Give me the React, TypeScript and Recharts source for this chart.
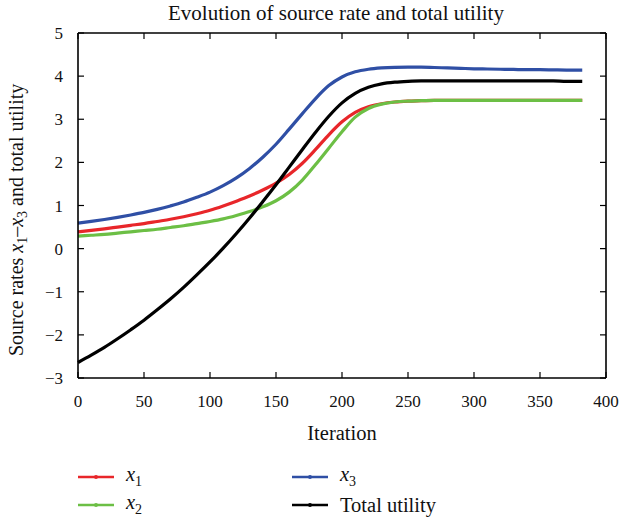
import React from 'react';
import { LineChart, Line, XAxis, YAxis, Legend } from 'recharts';

const iterations = [0, 10, 20, 30, 40, 50, 60, 70, 80, 90, 100, 110, 120, 130, 140, 150, 160, 170, 180, 190, 200, 210, 220, 230, 240, 250, 260, 270, 280, 290, 300, 310, 320, 330, 340, 350, 360, 370, 382];
const x1Values = [0.39, 0.425, 0.46, 0.5, 0.54, 0.58, 0.63, 0.68, 0.74, 0.81, 0.89, 0.99, 1.1, 1.22, 1.36, 1.52, 1.72, 1.98, 2.3, 2.64, 2.94, 3.16, 3.29, 3.36, 3.4, 3.42, 3.43, 3.44, 3.44, 3.44, 3.44, 3.44, 3.44, 3.44, 3.44, 3.44, 3.44, 3.44, 3.44];
const x2Values = [0.29, 0.31, 0.33, 0.36, 0.39, 0.42, 0.45, 0.49, 0.53, 0.58, 0.63, 0.69, 0.77, 0.86, 0.97, 1.11, 1.31, 1.59, 1.95, 2.33, 2.71, 3.05, 3.25, 3.35, 3.4, 3.42, 3.43, 3.44, 3.44, 3.44, 3.44, 3.44, 3.44, 3.44, 3.44, 3.44, 3.44, 3.44, 3.44];
const x3Values = [0.59, 0.63, 0.675, 0.725, 0.78, 0.84, 0.91, 0.99, 1.08, 1.19, 1.31, 1.46, 1.64, 1.86, 2.12, 2.42, 2.77, 3.13, 3.48, 3.78, 3.98, 4.1, 4.16, 4.19, 4.205, 4.21, 4.21, 4.2, 4.19, 4.18, 4.17, 4.165, 4.16, 4.155, 4.15, 4.15, 4.145, 4.14, 4.14];
const utilityValues = [-2.64, -2.47, -2.29, -2.09, -1.88, -1.66, -1.42, -1.17, -0.9, -0.61, -0.31, 0.01, 0.35, 0.71, 1.09, 1.48, 1.89, 2.3, 2.7, 3.07, 3.38, 3.6, 3.74, 3.82, 3.86, 3.88, 3.89, 3.89, 3.89, 3.89, 3.89, 3.89, 3.89, 3.89, 3.89, 3.89, 3.89, 3.88, 3.88];

const xTicks = [0, 50, 100, 150, 200, 250, 300, 350, 400];
const yTicks = [-3, -2, -1, 0, 1, 2, 3, 4, 5];

const data = iterations.map((it, i) => ({
  it,
  x1: x1Values[i],
  x2: x2Values[i],
  x3: x3Values[i],
  total: utilityValues[i],
}));

const FONT = '"Liberation Serif", "DejaVu Serif", serif';

const fmt = (v: number) => String(v).replace('-', '\u2212');

const BottomLabel = (props: any) => {
  const { x, y, payload } = props;
  return (
    <text x={x} y={y + 29} textAnchor="middle" fontFamily={FONT} fontSize={17} fill="#111">
      {fmt(payload.value)}
    </text>
  );
};

const LeftLabel = (props: any) => {
  const { x, y, payload } = props;
  return (
    <text x={x - 15} y={y + 6} textAnchor="end" fontFamily={FONT} fontSize={17} fill="#111">
      {fmt(payload.value)}
    </text>
  );
};

const EmptyTick = () => <g />;

const YLabel = () => (
  <text
    transform="translate(23, 356) rotate(-90)"
    textAnchor="start"
    fontFamily={FONT}
    fontSize={20}
    fill="#111"
  >
    <tspan>Source rates </tspan>
    <tspan fontStyle="italic">x</tspan>
    <tspan fontSize={14} dy={4}>1</tspan>
    <tspan dy={-4}>{'\u2013'}</tspan>
    <tspan fontStyle="italic">x</tspan>
    <tspan fontSize={14} dy={4}>3</tspan>
    <tspan dy={-4}> and total utility</tspan>
  </text>
);

const XLabel = () => (
  <text x={342} y={440} textAnchor="middle" fontFamily={FONT} fontSize={20.5} fill="#111">
    Iteration
  </text>
);

const legendItems = [
  { key: 'x1', color: '#e8262a', name: 'x', sub: '1', left: 78, top: 465 },
  { key: 'x2', color: '#6cbf45', name: 'x', sub: '2', left: 78, top: 493 },
  { key: 'x3', color: '#2f4fa5', name: 'x', sub: '3', left: 292, top: 465 },
  { key: 'total', color: '#000000', name: 'Total utility', sub: '', left: 292, top: 493 },
];

const LegendContent = () => (
  <div style={{ position: 'relative', width: 620, height: 518 }}>
    {legendItems.map((it) => (
      <div
        key={it.key}
        style={{
          position: 'absolute',
          left: it.left,
          top: it.top,
          height: 24,
          display: 'flex',
          alignItems: 'center',
          fontFamily: FONT,
          fontSize: 20.5,
          color: '#111',
          whiteSpace: 'nowrap',
        }}
      >
        <svg width={36} height={8} style={{ marginRight: 12 }}>
          <line x1={0} x2={36} y1={4} y2={4} stroke={it.color} strokeWidth={2.5} />
          <circle cx={18} cy={4} r={2} fill={it.color} />
        </svg>
        {it.sub ? (
          <span>
            <i>{it.name}</i>
            <sub style={{ fontSize: 14 }}>{it.sub}</sub>
          </span>
        ) : (
          <span>{it.name}</span>
        )}
      </div>
    ))}
  </div>
);

const frameLine = { stroke: '#000', strokeWidth: 1.6 };
const tickLineStyle = { stroke: '#000', strokeWidth: 1.2 };

export default function App() {
  return (
    <div style={{ position: 'absolute', left: 0, top: 0, width: 620, height: 518, background: '#fff' }}>
      <LineChart
        width={620}
        height={518}
        data={data}
        margin={{ top: 33, right: 14, bottom: 110, left: 0 }}
      >
        <XAxis
          dataKey="it"
          type="number"
          domain={[0, 400]}
          ticks={xTicks}
          tickSize={0}
          tickMargin={0}
          tickLine={false}
          tick={<BottomLabel />}
          axisLine={frameLine}
          height={30}
          interval={0}
        />
        <YAxis
          type="number"
          domain={[-3, 5]}
          ticks={yTicks}
          tickSize={0}
          tickMargin={0}
          tickLine={false}
          tick={<LeftLabel />}
          axisLine={frameLine}
          width={78}
          interval={0}
          allowDataOverflow
        />
        <XAxis
          xAxisId="bm"
          orientation="bottom"
          mirror
          dataKey="it"
          type="number"
          domain={[0, 400]}
          ticks={xTicks}
          tickSize={6}
          tickLine={tickLineStyle}
          tick={<EmptyTick />}
          axisLine={false}
          interval={0}
          allowDataOverflow
        />
        <XAxis
          xAxisId="tm"
          orientation="top"
          mirror
          dataKey="it"
          type="number"
          domain={[0, 400]}
          ticks={xTicks}
          tickSize={6}
          tickLine={tickLineStyle}
          tick={<EmptyTick />}
          axisLine={frameLine}
          interval={0}
          allowDataOverflow
        />
        <YAxis
          yAxisId="lm"
          orientation="left"
          mirror
          type="number"
          domain={[-3, 5]}
          ticks={yTicks}
          tickSize={6}
          tickLine={tickLineStyle}
          tick={<EmptyTick />}
          axisLine={false}
          interval={0}
          allowDataOverflow
        />
        <YAxis
          yAxisId="rm"
          orientation="right"
          mirror
          type="number"
          domain={[-3, 5]}
          ticks={yTicks}
          tickSize={6}
          tickLine={tickLineStyle}
          tick={<EmptyTick />}
          axisLine={frameLine}
          interval={0}
          allowDataOverflow
        />
        <Line type="monotone" dataKey="x1" stroke="#e8262a" strokeWidth={3.2} dot={false} isAnimationActive={false} />
        <Line type="monotone" dataKey="x2" stroke="#6cbf45" strokeWidth={3.2} dot={false} isAnimationActive={false} />
        <Line type="monotone" dataKey="x3" stroke="#2f4fa5" strokeWidth={3.2} dot={false} isAnimationActive={false} />
        <Line type="monotone" dataKey="total" stroke="#000000" strokeWidth={3.2} dot={false} isAnimationActive={false} />
        <Legend
          verticalAlign="middle"
          align="center"
          layout="horizontal"
          content={<LegendContent />}
          wrapperStyle={{ position: 'absolute', left: 0, top: 0, width: 620, height: 518, pointerEvents: 'none' }}
        />
        <text x={336} y={20} textAnchor="middle" fontFamily={FONT} fontSize={21} fill="#111">
          Evolution of source rate and total utility
        </text>
        <XLabel />
        <YLabel />
      </LineChart>
    </div>
  );
}
